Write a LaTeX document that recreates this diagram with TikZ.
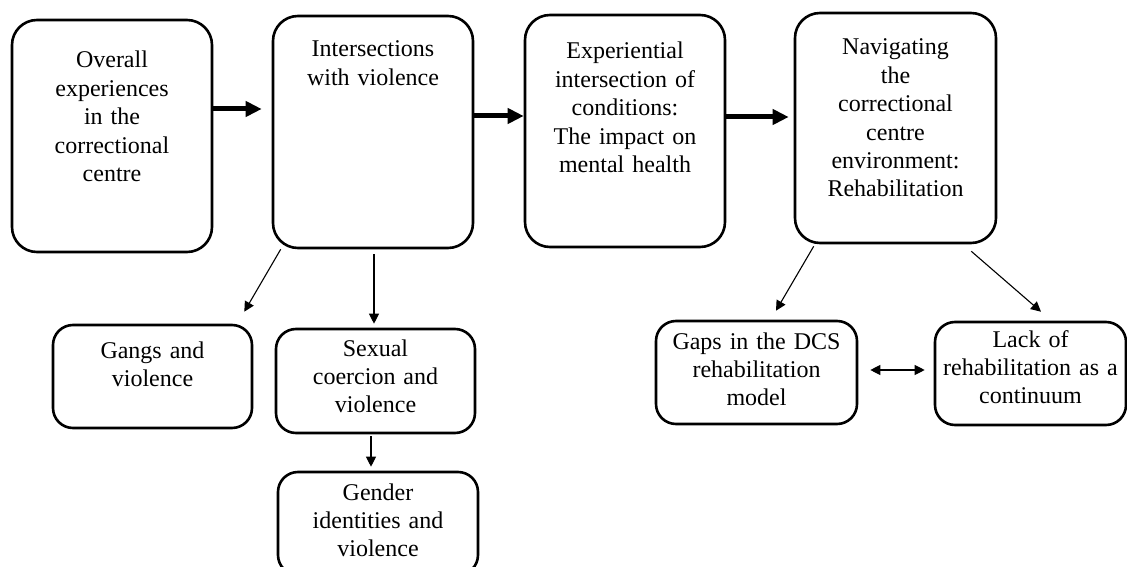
\documentclass[tikz,border=0pt]{standalone}
\usepackage{fontspec}
\setmainfont{Liberation Serif}
\usepackage{tikz}
\usetikzlibrary{arrows.meta}

\begin{document}
\begin{tikzpicture}[x=1pt, y=-1pt,
    theme/.style={draw, line width=2.6pt, rounded corners=25pt, inner sep=0pt,
        align=center, font=\fontsize{24}{28.4}\selectfont},
    subtheme/.style={theme, rounded corners=20pt},
    bigarrow/.style={-{Triangle[length=16pt,width=15pt]}, line width=5pt},
    smallarrow/.style={-{Triangle[length=10pt,width=10pt]}, line width=1.1pt},
    bothways/.style={{Triangle[length=10pt,width=10pt]}-{Triangle[length=10pt,width=10pt]}, line width=1.1pt}]
    \useasboundingbox (0,0) rectangle (1127,567);
    \clip (0,0) rectangle (1127,567);

    % Main themes
    \node[theme, text width=200pt, text height=48pt, text depth=184pt] (overall) at (112,136)
        {Overall\\experiences\\in the\\correctional\\centre};
    \node[theme, text width=200pt, text height=41pt, text depth=191pt] (violence) at (373,132)
        {Intersections\\with violence};
    \node[theme, text width=200pt, text height=44pt, text depth=188pt] (mental) at (625,131)
        {Experiential\\intersection of\\conditions:\\The impact on\\mental health};
    \node[theme, text width=201pt, text height=42pt, text depth=188pt] (navigate) at (895.5,128)
        {Navigating\\the\\correctional\\centre\\environment:\\Rehabilitation};

    % Sub-themes
    \node[subtheme, text width=199pt, text height=33pt, text depth=70pt] (gangs) at (152.5,376.5)
        {Gangs and\\violence};
    \node[subtheme, text width=199pt, text height=27pt, text depth=77pt] (sexual) at (375.5,381)
        {Sexual\\coercion and\\violence};
    \node[subtheme, text width=200pt, text height=28pt, text depth=75pt] (gender) at (378,523.5)
        {Gender\\identities and\\violence};
    \node[subtheme, text width=201pt, text height=28pt, text depth=75pt] (gaps) at (756.5,372.5)
        {Gaps in the DCS\\rehabilitation\\model};
    \node[subtheme, text width=191pt, text height=25pt, text depth=78pt] (lack) at (1030.5,373.5)
        {Lack of\\rehabilitation as a\\continuum};

    % Thick arrows between the main themes
    \draw[bigarrow] ([yshift=27pt]overall.east) -- ([xshift=-10pt, yshift=23pt]violence.west);
    \draw[bigarrow] ([yshift=16pt]violence.east) -- ([yshift=15pt]mental.west);
    \draw[bigarrow] ([yshift=14pt]mental.east) -- ([xshift=-5pt, yshift=11pt]navigate.west);

    % Thin arrows to the sub-themes
    \draw[smallarrow] ([xshift=9pt]violence.south west) -- ([xshift=-9pt, yshift=12pt]gangs.north east);
    \draw[smallarrow] ([xshift=1pt, yshift=-5pt]violence.south) -- ([xshift=-1.5pt, yshift=4pt]sexual.north);
    \draw[smallarrow] ([xshift=-4.5pt, yshift=-2pt]sexual.south) -- ([xshift=-7pt, yshift=4pt]gender.north);
    \draw[smallarrow] ([xshift=20pt, yshift=-2pt]navigate.south west) -- ([xshift=19.5pt, yshift=9pt]gaps.north);
    \draw[smallarrow] ([xshift=-26pt, yshift=-7pt]navigate.south east) -- ([xshift=10.5pt, yshift=9pt]lack.north);
    \draw[bothways] ([xshift=12pt, yshift=2.5pt]gaps.east) -- ([xshift=-9pt, yshift=3.5pt]lack.west);
\end{tikzpicture}
\end{document}
